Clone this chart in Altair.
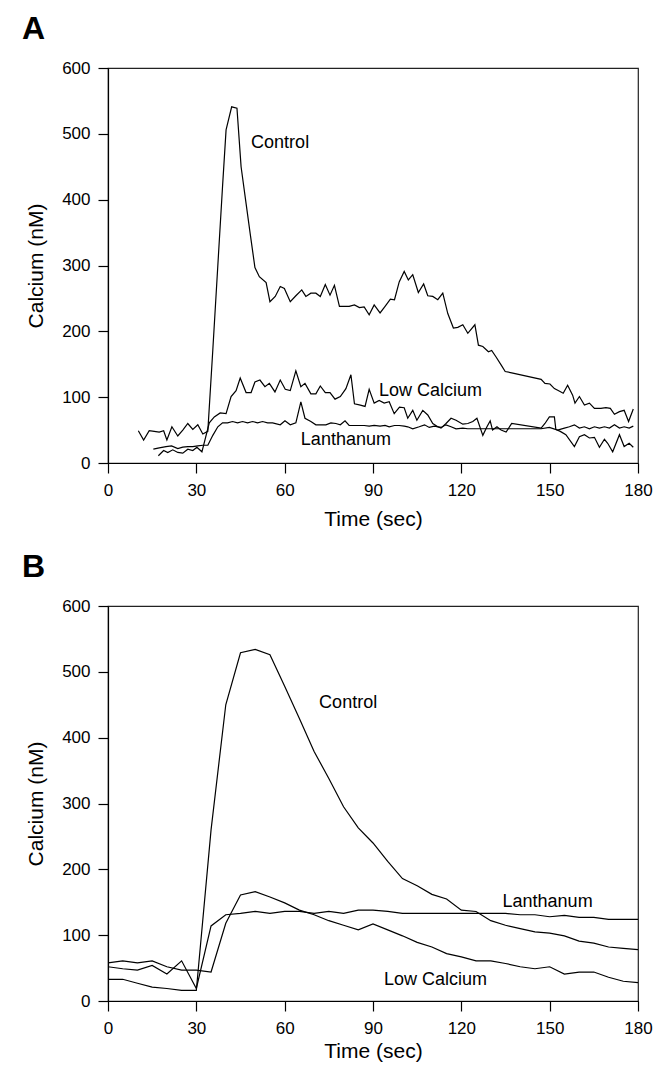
import altair as alt
import pandas as pd

FONT = "Liberation Sans"

X_TICKS = [0, 30, 60, 90, 120, 150, 180]
Y_TICKS = [0, 100, 200, 300, 400, 500, 600]

# ---------------- Panel A (raw traces) ----------------
A_CONTROL_T = [10.3, 12.1, 14.0, 15.7, 17.4, 18.9, 20.0, 21.7, 23.7, 25.4, 27.1, 28.8, 30.5, 32.2, 33.9,
               35.6, 37.3, 38.9, 40.1, 42.0, 43.8, 45.2, 46.9, 48.3, 49.9, 51.4, 53.7, 55.0, 56.8, 58.5,
               59.9, 61.9, 63.8, 65.8, 67.2, 68.9, 70.6, 72.1, 73.8, 75.4, 76.9, 78.6, 80.3, 81.9, 83.7,
               85.4, 87.0, 88.7, 90.4, 92.4, 94.1, 95.9, 97.3, 98.9, 100.6, 102.0, 103.5, 105.4, 107.2,
               108.6, 110.3, 112.0, 113.7, 115.4, 117.3, 118.8, 120.5, 122.2, 124.6, 125.8, 127.3, 129.2,
               130.3, 131.8, 133.5, 134.9, 137.1, 147.1, 148.4, 150.1, 151.6, 152.9, 154.6, 156.1, 157.8,
               158.6, 160.1, 161.8, 163.5, 165.2, 167.4, 169.1, 170.6, 172.0, 173.7, 175.3, 176.8, 178.4]
A_CONTROL_V = [49, 35, 49, 48, 47, 49, 35, 55, 41, 50, 60, 51, 58, 44, 48,
               172, 300, 420, 506, 541, 539, 450, 394, 348, 297, 283, 274, 245, 253, 268,
               265, 245, 254, 263, 253, 258, 258, 253, 271, 255, 270, 238, 238, 238, 240,
               236, 237, 225, 240, 228, 238, 249, 248, 275, 291, 278, 286, 259, 272,
               254, 253, 248, 258, 227, 205, 206, 210, 197, 210, 179, 177, 169,
               171, 161, 149, 139, 137, 127, 121, 120, 113, 110, 106, 118, 103,
               91, 101, 88, 91, 83, 83, 84, 83, 74, 78, 80, 63, 82]

A_LOWCA_T = [17.1, 18.9, 20.3, 22.0, 23.7, 25.4, 27.1, 28.8, 30.2, 31.9, 34.4, 36.1, 38.1, 40.1, 41.8,
             43.5, 44.9, 46.9, 48.6, 49.9, 51.6, 53.3, 54.8, 56.7, 58.5, 60.2, 61.9, 63.8, 65.5, 66.9,
             68.9, 70.6, 72.1, 73.8, 75.4, 77.1, 78.9, 80.8, 82.5, 83.7, 85.7, 87.3, 88.7, 90.4, 92.1,
             93.8, 95.5, 97.2, 99.0, 100.6, 101.8, 103.5, 104.9, 106.9, 108.6, 110.3, 112.0, 113.1,
             114.8, 116.5, 118.2, 120.5, 122.2, 123.9, 125.3, 127.3, 128.7, 129.8, 130.6, 132.1, 133.5,
             135.2, 137.1, 147.1, 148.4, 149.9, 151.6, 152.1, 153.6, 155.5, 158.4, 160.1, 161.8, 163.5,
             165.2, 166.9, 168.6, 169.7, 171.4, 173.7, 175.3, 177.0, 178.4]
A_LOWCA_V = [11, 19, 16, 20, 16, 15, 21, 19, 24, 17, 61, 70, 76, 75, 101,
             110, 129, 107, 107, 123, 126, 116, 121, 108, 126, 112, 110, 140, 116, 121,
             105, 105, 117, 107, 107, 97, 101, 113, 134, 90, 88, 86, 112, 91, 95,
             91, 93, 75, 85, 84, 68, 80, 65, 80, 73, 60, 55, 53,
             60, 68, 65, 59, 60, 63, 68, 42, 55, 64, 50, 55, 50,
             47, 60, 53, 60, 70, 70, 51, 48, 43, 25, 40, 43, 38,
             39, 24, 36, 30, 17, 43, 25, 30, 24]

A_LANTH_T = [15.4, 17.4, 19.7, 21.6, 23.7, 25.4, 27.1, 28.8, 30.5, 32.2, 33.9, 35.6, 37.3, 38.9, 40.6,
             42.3, 44.0, 45.7, 47.4, 49.1, 50.8, 52.5, 54.2, 55.9, 58.5, 60.1, 61.9, 63.8, 65.5, 66.9,
             68.9, 70.6, 72.3, 74.0, 75.7, 77.4, 78.9, 80.5, 81.9, 83.7, 85.4, 87.0, 88.7, 90.4, 92.4,
             94.1, 95.5, 97.3, 98.9, 100.6, 101.8, 103.5, 105.7, 107.5, 109.1, 110.8, 113.1, 114.8,
             116.5, 118.2, 120.5, 122.2, 125.3, 127.3, 129.8, 132.1, 135.2, 137.1, 147.1, 149.9, 152.7,
             155.0, 156.7, 158.4, 160.1, 161.8, 163.5, 165.2, 166.9, 168.6, 170.3, 172.0, 173.7, 175.3,
             177.0, 178.4]
A_LANTH_V = [21, 23, 25, 26, 22, 24, 25, 25, 26, 27, 27, 42, 55, 61, 61,
             63, 61, 63, 61, 63, 61, 63, 61, 61, 58, 64, 58, 61, 93, 68,
             63, 58, 58, 58, 61, 60, 58, 64, 57, 57, 57, 57, 56, 57, 56,
             57, 55, 57, 57, 56, 55, 52, 55, 58, 54, 56, 54, 58,
             55, 52, 53, 52, 52, 52, 52, 52, 52, 52, 52, 54, 50,
             53, 55, 58, 53, 55, 52, 55, 53, 55, 53, 58, 53, 55,
             53, 56]

# ---------------- Panel B (averaged traces) ----------------
B_T = [0, 5, 10, 15, 20, 25, 30, 35, 40, 45, 50, 55, 60, 65, 70, 75, 80, 85, 90, 95, 100, 105, 110,
       115, 120, 125, 130, 135, 140, 145, 150, 155, 160, 165, 170, 175, 180]
B_CONTROL_V = [33, 33, 27, 21, 19, 16, 16, 260, 450, 529, 534, 526, 478, 429, 379, 338, 295, 263, 240,
               212, 186, 175, 162, 155, 138, 136, 122, 115, 110, 105, 103, 99, 91, 88, 82, 80, 78]
B_LOWCA_V = [58, 61, 58, 61, 52, 47, 47, 44, 118, 161, 166, 158, 149, 138, 131, 122, 115, 108, 117,
             108, 99, 89, 82, 72, 67, 61, 61, 57, 52, 49, 52, 41, 44, 44, 36, 30, 28]
B_LANTH_V = [52, 49, 47, 54, 41, 61, 19, 114, 131, 133, 136, 133, 136, 136, 133, 136, 133, 138, 138,
             136, 133, 133, 133, 133, 133, 133, 133, 133, 131, 131, 128, 130, 127, 127, 124, 124, 124]

# annotation labels
A_LABELS = ["Control", "Low Calcium", "Lanthanum"]
A_LABEL_T = [48.6, 92.0, 65.5]
A_LABEL_V = [486, 109, 35]
B_LABELS = ["Control", "Lanthanum", "Low Calcium"]
B_LABEL_T = [71.7, 134.0, 93.7]
B_LABEL_V = [453, 150, 32]


def build_df(series):
    rows = []
    for name, ts, vs in series:
        for t, v in zip(ts, vs):
            rows.append({"series": name, "time": t, "calcium": v})
    return pd.DataFrame(rows)


df_a = build_df([("Control", A_CONTROL_T, A_CONTROL_V),
                 ("Low Calcium", A_LOWCA_T, A_LOWCA_V),
                 ("Lanthanum", A_LANTH_T, A_LANTH_V)])
df_b = build_df([("Control", B_T, B_CONTROL_V),
                 ("Low Calcium", B_T, B_LOWCA_V),
                 ("Lanthanum", B_T, B_LANTH_V)])
lab_a = pd.DataFrame({"label": A_LABELS, "time": A_LABEL_T, "calcium": A_LABEL_V})
lab_b = pd.DataFrame({"label": B_LABELS, "time": B_LABEL_T, "calcium": B_LABEL_V})


def panel(df, labels, letter, x_title_pad):
    x = alt.X("time:Q",
              scale=alt.Scale(domain=[0, 180], nice=False, zero=False),
              axis=alt.Axis(values=X_TICKS, title="Time (sec)", grid=False, tickSize=10,
                            labelPadding=9, titlePadding=x_title_pad, labelFlush=False, format="d"))
    y = alt.Y("calcium:Q",
              scale=alt.Scale(domain=[0, 600], nice=False),
              axis=alt.Axis(values=Y_TICKS, title="Calcium (nM)", grid=False, tickSize=10,
                            labelPadding=8, titlePadding=15, labelFlush=False, format="d"))
    lines = alt.Chart(df).mark_line(color="black", strokeWidth=1.2).encode(
        x=x, y=y, detail="series:N", order="time:Q")
    texts = alt.Chart(labels).mark_text(align="left", baseline="middle", fontSize=18,
                                         font=FONT, color="black").encode(
        x="time:Q", y="calcium:Q", text="label:N")
    letter_mark = alt.Chart(pd.DataFrame({"letter": [letter]})).mark_text(
        align="left", baseline="top", fontSize=32, fontWeight="bold", font=FONT,
        color="black").encode(x=alt.value(-86), y=alt.value(-54), text="letter:N")
    return alt.layer(lines, texts, letter_mark).properties(width=530, height=395)


chart = alt.vconcat(panel(df_a, lab_a, "A", 10), panel(df_b, lab_b, "B", 4), spacing=20).properties(
    padding={"left": 13, "top": 4, "right": 0, "bottom": 0}
).configure_view(
    stroke="#222222", strokeWidth=1.2
).configure_axis(
    domainColor="black", domainWidth=1.2, tickColor="black", tickWidth=1.2,
    labelColor="black", titleColor="black", labelFont=FONT, titleFont=FONT,
    labelFontSize=17, titleFontSize=21, titleFontWeight="normal"
)

chart.save("out.html", embed_options={"renderer": "svg", "actions": False})
